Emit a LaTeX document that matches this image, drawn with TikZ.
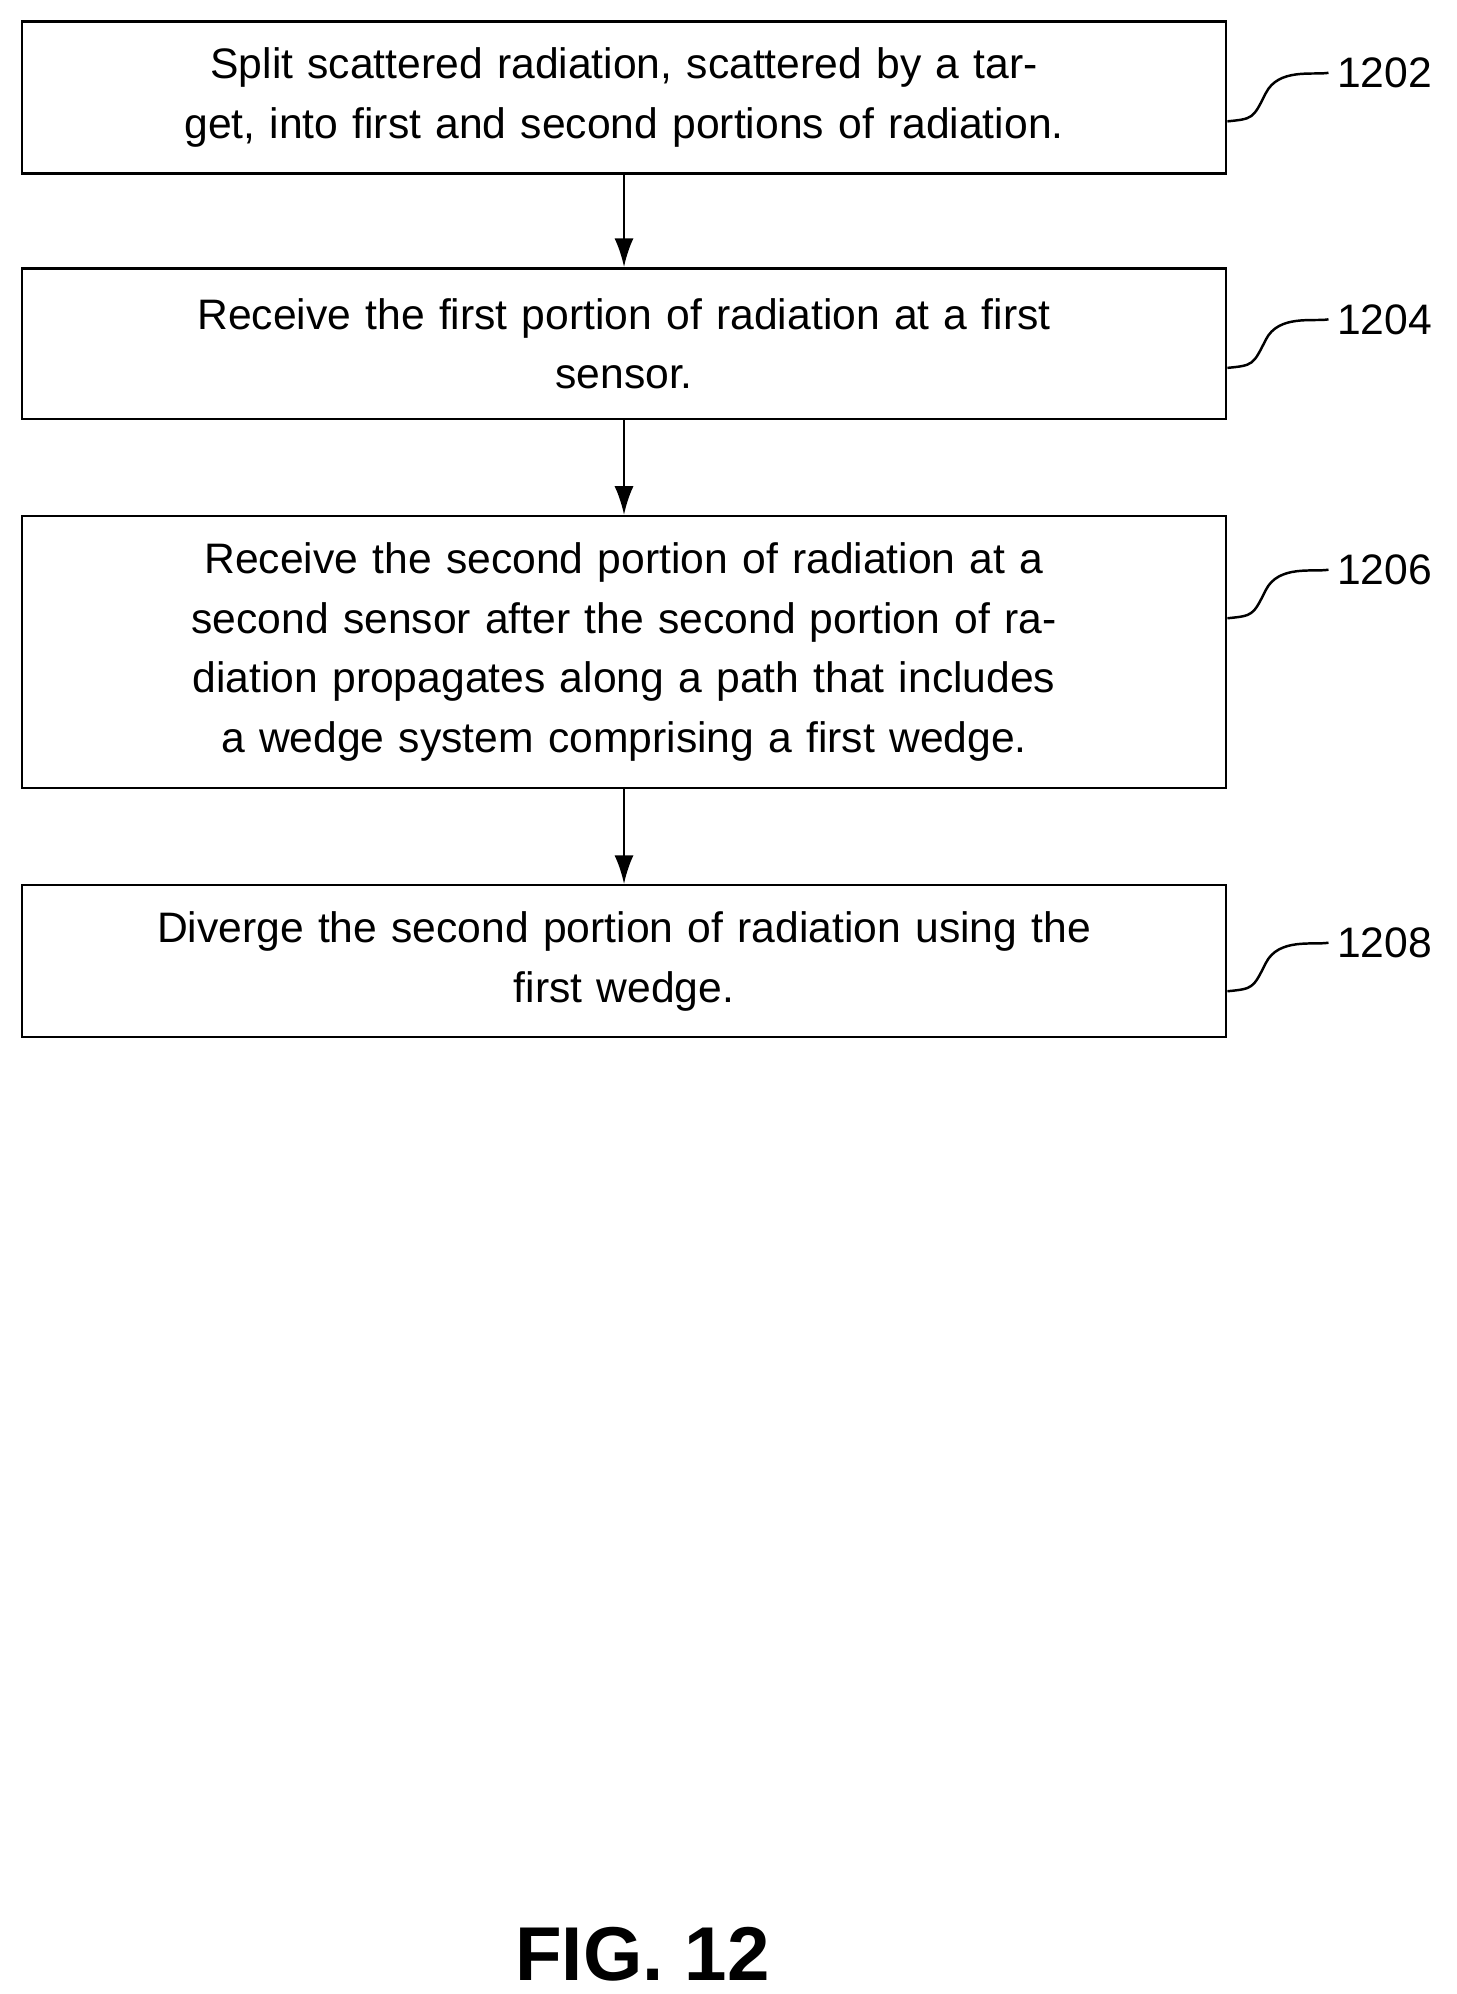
\documentclass[tikz,border=0pt]{standalone}
\usepackage{fontspec}
\setmainfont{Liberation Sans}
\usetikzlibrary{positioning,arrows.meta}

\tikzset{
  stepbox/.style={rectangle, draw, line width=1.1pt, text width=17.6cm, align=center,
    minimum width=18.86cm, inner sep=0pt, font=\fontsize{19pt}{26.6pt}\selectfont},
  reflabel/.style={font=\fontsize{19pt}{23pt}\selectfont, anchor=west}
}

\begin{document}
\begin{tikzpicture}[x=0.02cm, y=-0.02cm, >={Latex[length=4.5mm,width=3mm]}, line width=1.1pt]
  \useasboundingbox (0,0) rectangle (1140,1561);

  % Nodes
  \node[stepbox, minimum height=2.38cm] (split) at (488.5,76.5)
    {Split scattered radiation, scattered by a target, into first and second portions of radiation.};
  \node[stepbox, minimum height=2.36cm] (first) at (488.5,269)
    {Receive the first portion of radiation at a first\\ sensor.};
  \node[stepbox, minimum height=4.26cm] (second) at (488.5,510.5)
    {Receive the second portion of radiation at a second sensor after the second portion of radiation propagates along a path that includes a wedge system comprising a first wedge.};
  \node[stepbox, minimum height=2.38cm] (diverge) at (488.5,752.5)
    {Diverge the second portion of radiation using the\\ first wedge.};

  % Reference numerals
  \node[reflabel] (n1202) at (1040,57) {1202};
  \node[reflabel] (n1204) at (1040,250) {1204};
  \node[reflabel] (n1206) at (1040,446) {1206};
  \node[reflabel] (n1208) at (1040,738) {1208};

  \foreach \stp/\lab in {split/n1202, first/n1204, second/n1206, diverge/n1208}
    \draw (\stp.east |- \lab.center) ++(0,38)
      .. controls +(20,-2) and +(-10,20) .. ++(30,-22)
      .. controls +(10,-20) and +(-12,2) .. (\lab.west);

  % Arrows
  \draw[->] (split) -- (first);
  \draw[->] (first) -- (second);
  \draw[->] (second) -- (diverge);

  \node[font=\bfseries\fontsize{34pt}{40pt}\selectfont] (fig) at (503,1530) {FIG. 12};
\end{tikzpicture}
\end{document}
